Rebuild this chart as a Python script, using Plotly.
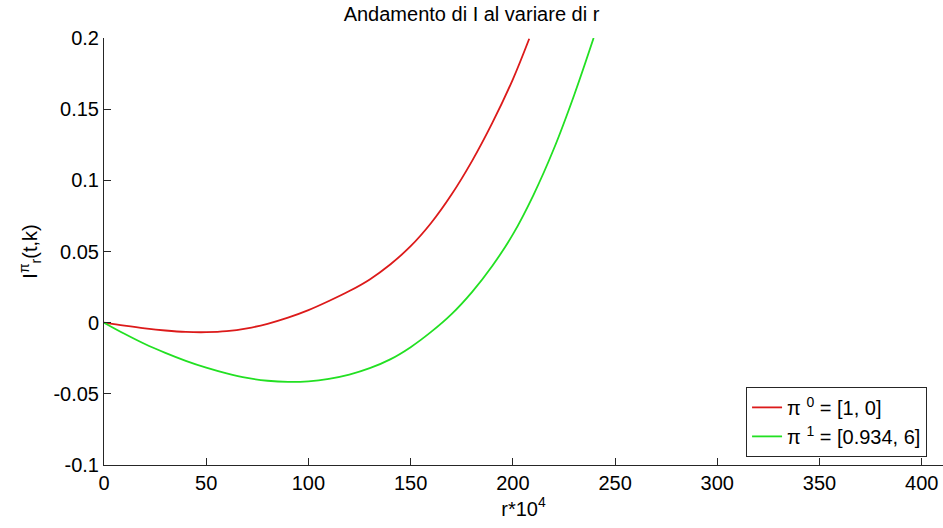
import plotly.graph_objects as go

# Data
r_red = [0, 10, 20, 30, 40, 50, 60, 70, 80, 90, 100, 110, 120, 130, 140, 150, 160, 170, 180, 190, 200, 208]
i_red = [0, -0.0021, -0.0040, -0.0055, -0.0065, -0.0067, -0.0060, -0.0040, -0.0008, 0.0035, 0.0088,
         0.0152, 0.0222, 0.0304, 0.0409, 0.0537, 0.0700, 0.0900, 0.1135, 0.1405, 0.1710, 0.1995]

r_green = [0, 10, 20, 30, 40, 50, 60, 70, 80, 90, 100, 110, 120, 130, 140, 150, 160, 170, 180, 190,
           200, 210, 220, 230, 239.5]
i_green = [0, -0.0078, -0.0150, -0.0212, -0.0268, -0.0316, -0.0356, -0.0388, -0.0408, -0.0416, -0.0412,
           -0.0395, -0.0365, -0.0320, -0.0258, -0.0172, -0.0065, 0.0060, 0.0215, 0.0400, 0.0620,
           0.0895, 0.1220, 0.1600, 0.2000]

x_ticks = [0, 50, 100, 150, 200, 250, 300, 350, 400]
y_ticks = [-0.1, -0.05, 0, 0.05, 0.1, 0.15, 0.2]
y_tick_labels = ["-0.1", "-0.05", "0", "0.05", "0.1", "0.15", "0.2"]

name_red = "π <sup>0</sup> = [1, 0]"
name_green = "π <sup>1</sup> = [0.934, 6]"

font = "Liberation Sans, Arial, sans-serif"
axis_color = "#262626"

fig = go.Figure()
fig.add_trace(go.Scatter(x=r_red, y=i_red, mode="lines", name=name_red,
                         line=dict(color="#dc1a1a", width=1.8, shape="spline")))
fig.add_trace(go.Scatter(x=r_green, y=i_green, mode="lines", name=name_green,
                         line=dict(color="#22e022", width=1.8, shape="spline")))

fig.update_layout(
    width=943, height=528,
    margin=dict(l=104, r=0, t=38, b=63),
    paper_bgcolor="white", plot_bgcolor="white",
    font=dict(family=font, size=20, color="black"),
    title=dict(text="Andamento di I al variare di r", x=0.5, xanchor="center",
               y=1 - 14 / 528, yanchor="middle", font=dict(family=font, size=20, color="black")),
    showlegend=True,
    legend=dict(x=0.981, y=0.019, xanchor="right", yanchor="bottom",
                bgcolor="white", bordercolor=axis_color, borderwidth=1,
                font=dict(family=font, size=20, color="black"),
                tracegroupgap=0, itemwidth=30),
)

fig.update_xaxes(
    range=[0, 410.4], tickvals=x_ticks, ticks="inside", ticklen=7, tickcolor=axis_color,
    showline=True, linecolor=axis_color, linewidth=1, showgrid=False, zeroline=False,
    mirror=False, tickfont=dict(family=font, size=20, color="black"),
    title=dict(text="r*10<sup>4</sup>", font=dict(family=font, size=20, color="black"), standoff=8),
)
fig.update_yaxes(
    range=[-0.1, 0.2], tickvals=y_ticks, ticktext=y_tick_labels, ticks="inside", ticklen=7,
    tickcolor=axis_color, showline=True, linecolor=axis_color, linewidth=1, showgrid=False,
    zeroline=False, mirror=False, tickfont=dict(family=font, size=20, color="black"),
    title=dict(text="I<sup>π</sup><sub>r</sub>(t,k)", font=dict(family=font, size=20, color="black"),
               standoff=10),
)

fig.write_html("out.html")
